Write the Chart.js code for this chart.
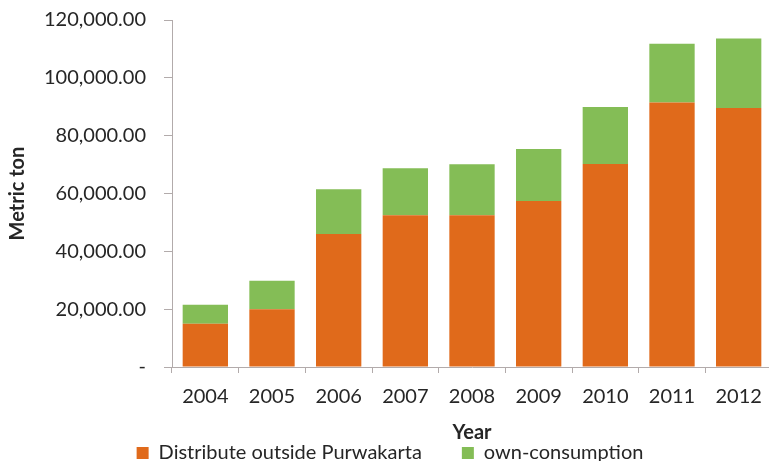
<!DOCTYPE html>
<html>
<head>
<meta charset="utf-8">
<script src="https://cdn.jsdelivr.net/npm/chart.js@4/dist/chart.umd.min.js"></script>
<style>
  html, body { margin: 0; padding: 0; background: #fff; overflow: hidden; }
  #wrap { width: 776px; height: 473px; position: relative; }
</style>
</head>
<body>
<div id="wrap"><canvas id="c" width="776" height="473"></canvas></div>
<script>
// Annual volume by destination (metric ton)
const years = ['2004', '2005', '2006', '2007', '2008', '2009', '2010', '2011', '2012'];
const distributeOutside = [15000, 20000, 46000, 52500, 52500, 57400, 70200, 91500, 89600];
const ownConsumption = [6500, 9800, 15500, 16200, 17600, 18000, 19700, 20300, 24000];
const yTicks = [0, 20000, 40000, 60000, 80000, 100000, 120000];

const FONT = 'Lato, "Open Sans", sans-serif';
const textColor = '#262626';
const axisColor = '#b2abab';
const LEFT_PAD = 8;
const PLOT_LEFT = 172;   // x of the value axis line
const PLOT_TOP = 20;     // y of the top tick
const XAXIS_H = 36;      // height reserved for the category axis box

new Chart(document.getElementById('c'), {
  type: 'bar',
  data: {
    labels: years,
    datasets: [
      { label: 'Distribute outside Purwakarta', data: distributeOutside, backgroundColor: '#e06a1b', categoryPercentage: 0.68, barPercentage: 1.0 },
      { label: 'own-consumption', data: ownConsumption, backgroundColor: '#84bd56', categoryPercentage: 0.68, barPercentage: 1.0 }
    ]
  },
  options: {
    responsive: false,
    animation: false,
    devicePixelRatio: 1,
    layout: { padding: { top: 0, left: LEFT_PAD, right: 4, bottom: 0 } },
    plugins: {
      tooltip: { enabled: false },
      legend: {
        position: 'bottom',
        labels: {
          color: textColor,
          font: { family: FONT, size: 20 },
          boxWidth: 12,
          boxHeight: 12,
          padding: 40
        }
      }
    },
    scales: {
      x: {
        stacked: true,
        afterFit: (axis) => { axis.height = XAXIS_H; },
        grid: { display: true, drawOnChartArea: false, drawTicks: true, tickLength: 6, color: axisColor, offset: true },
        border: { color: axisColor, width: 1 },
        ticks: { color: textColor, font: { family: FONT, size: 20 }, padding: 12, maxRotation: 0, autoSkip: false },
        title: { display: true, text: 'Year', color: textColor, font: { family: FONT, size: 20, weight: 'bold' }, padding: { top: 0, bottom: -42 } }
      },
      y: {
        stacked: true,
        min: 0,
        max: 120000,
        afterBuildTicks: (axis) => { axis.ticks = yTicks.map(v => ({ value: v })); },
        afterFit: (axis) => {
          axis.width = PLOT_LEFT - LEFT_PAD;
          axis.paddingTop = PLOT_TOP;
          axis.paddingBottom = 12;
        },
        grid: { display: true, drawOnChartArea: false, drawTicks: true, tickLength: 8, color: axisColor },
        border: { color: axisColor, width: 1 },
        ticks: {
          color: textColor,
          font: { family: FONT, size: 20 },
          padding: 18,
          callback: (v) => v === 0 ? '-' : Number(v).toLocaleString('en-US', { minimumFractionDigits: 2, maximumFractionDigits: 2 })
        },
        title: { display: true, text: 'Metric ton', color: textColor, font: { family: FONT, size: 20, weight: 'bold' }, padding: { top: -2, bottom: 0 } }
      }
    }
  }
});
</script>
</body>
</html>
